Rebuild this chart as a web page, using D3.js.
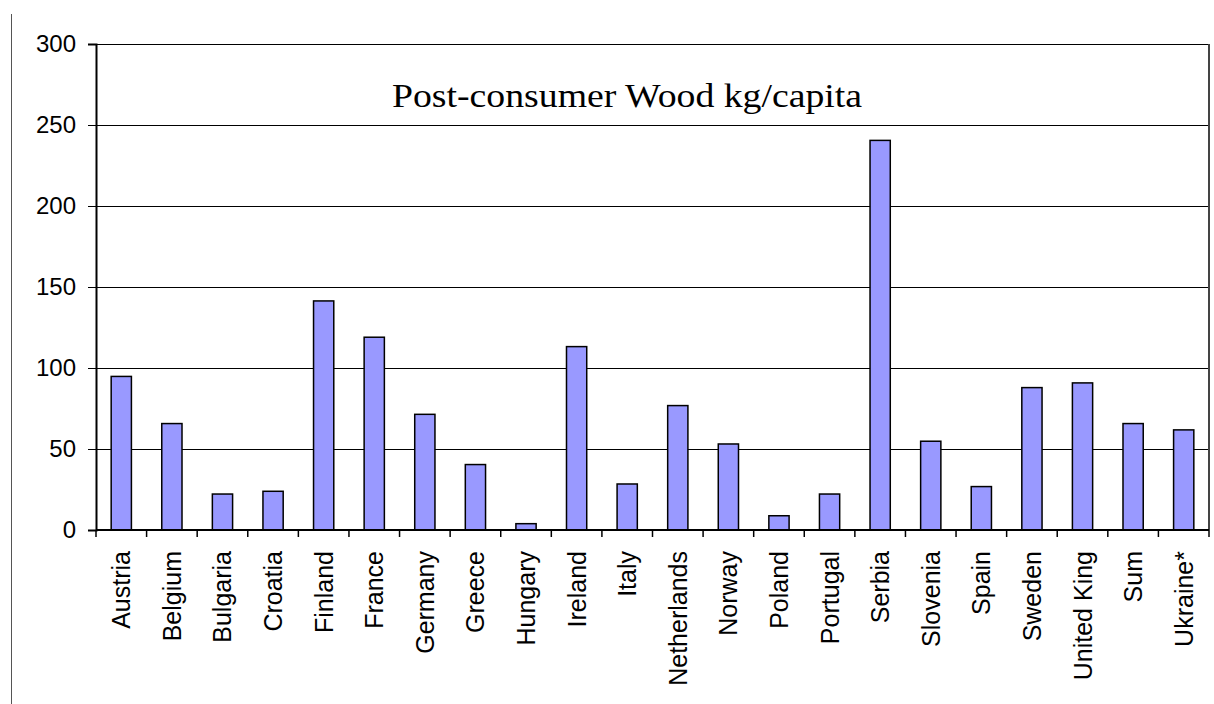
<!DOCTYPE html>
<html>
<head>
<meta charset="utf-8">
<script src="https://cdn.jsdelivr.net/npm/d3@7"></script>
<style>
  body { margin: 0; background: #fff; }
  text { font-family: "Liberation Sans", Arial, sans-serif; fill: #000; }
</style>
</head>
<body>
<div id="chart"></div>
<script>
var countries = ["Austria", "Belgium", "Bulgaria", "Croatia", "Finland", "France", "Germany",
  "Greece", "Hungary", "Ireland", "Italy", "Netherlands", "Norway", "Poland", "Portugal",
  "Serbia", "Slovenia", "Spain", "Sweden", "United King", "Sum", "Ukraine*"];
var woodKg = [94.8, 65.7, 22.2, 23.9, 141.4, 119, 71.4, 40.4, 3.9, 113.2, 28.4, 76.8, 53.1,
  8.8, 22.2, 240.5, 54.8, 26.8, 87.9, 90.8, 65.7, 61.8];
var yTicks = [0, 50, 100, 150, 200, 250, 300];
var chartTitle = "Post-consumer Wood kg/capita";

var svgWidth = 1214;
var svgHeight = 704;

var margin = { top: 44, right: 5, bottom: 174, left: 96 };
var width = svgWidth - margin.left - margin.right;
var height = svgHeight - margin.top - margin.bottom;

var svg = d3.select("#chart")
  .append("svg")
  .attr("width", svgWidth)
  .attr("height", svgHeight);

// thin vertical rule at the far left
svg.append("line")
  .attr("x1", 11.5).attr("x2", 11.5)
  .attr("y1", 14).attr("y2", svgHeight)
  .attr("stroke", "#555")
  .attr("stroke-width", 1);

var chartGroup = svg.append("g")
  .attr("transform", `translate(${margin.left}, ${margin.top})`);

var xScale = d3.scaleBand()
  .domain(countries)
  .range([0, width])
  .paddingInner(0.6)
  .paddingOuter(0.3);

var yScale = d3.scaleLinear()
  .domain([0, 300])
  .range([height, 0]);

// gridlines
chartGroup.selectAll(".grid")
  .data(yTicks)
  .enter()
  .append("line")
  .attr("class", "grid")
  .attr("x1", 0)
  .attr("x2", width)
  .attr("y1", d => Math.round(yScale(d)) + 0.5)
  .attr("y2", d => Math.round(yScale(d)) + 0.5)
  .attr("stroke", "#000")
  .attr("stroke-width", 1);

// right border of the plot area
chartGroup.append("line")
  .attr("x1", width).attr("x2", width)
  .attr("y1", 0).attr("y2", height)
  .attr("stroke", "#444")
  .attr("stroke-width", 2);

// title
chartGroup.append("text")
  .attr("x", 296)
  .attr("y", 63)
  .attr("textLength", 470)
  .attr("lengthAdjust", "spacingAndGlyphs")
  .style("font-family", "'Liberation Serif', 'Times New Roman', serif")
  .style("font-size", "34px")
  .text(chartTitle);

// bars
chartGroup.selectAll("rect.bar")
  .data(woodKg)
  .enter()
  .append("rect")
  .attr("class", "bar")
  .attr("x", (d, i) => xScale(countries[i]))
  .attr("y", d => yScale(d))
  .attr("width", xScale.bandwidth())
  .attr("height", d => height - yScale(d))
  .attr("fill", "#9999FF")
  .attr("stroke", "#000")
  .attr("stroke-width", 1.5);

// y axis
var leftAxis = d3.axisLeft(yScale)
  .tickValues(yTicks)
  .tickSize(8)
  .tickPadding(12);

var yAxis = chartGroup.append("g")
  .call(leftAxis);
yAxis.select(".domain").attr("stroke-width", 2);
yAxis.selectAll("text").style("font-size", "24px");

// x axis: ticks sit on category boundaries, labels rotated
var step = width / countries.length;
var xAxis = chartGroup.append("g")
  .attr("transform", `translate(0, ${height})`);

xAxis.append("line")
  .attr("x1", 0).attr("x2", width)
  .attr("stroke", "#000")
  .attr("stroke-width", 2);

xAxis.selectAll(".xtick")
  .data(d3.range(countries.length + 1))
  .enter()
  .append("line")
  .attr("class", "xtick")
  .attr("x1", i => i * step)
  .attr("x2", i => i * step)
  .attr("y1", 0)
  .attr("y2", 7)
  .attr("stroke", "#000")
  .attr("stroke-width", 1.5);

xAxis.selectAll(".xlabel")
  .data(countries)
  .enter()
  .append("text")
  .attr("class", "xlabel")
  .attr("transform", d => `translate(${xScale(d) + xScale.bandwidth() / 2 + 9}, 21) rotate(-90)`)
  .attr("text-anchor", "end")
  .style("font-size", "25px")
  .text(d => d);
</script>
</body>
</html>
